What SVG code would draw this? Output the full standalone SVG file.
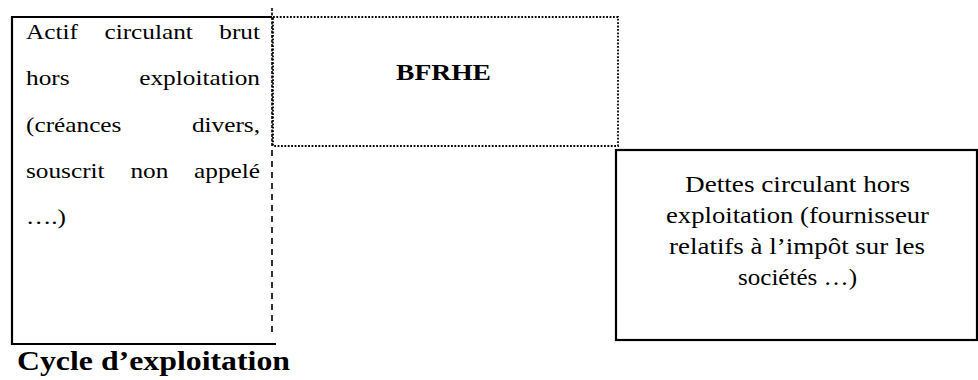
<svg xmlns="http://www.w3.org/2000/svg" width="978" height="380" viewBox="0 0 978 380">
  <style>
    .serif { font-family: "Liberation Serif", "Times New Roman", serif; fill: #000; }
    .body { font-size: 22px; }
    .solid { fill: none; stroke: #000; stroke-width: 2.2; }
    .dotted { fill: none; stroke: #000; stroke-width: 1.8; stroke-dasharray: 1.8 1.6; }
    .dashed { fill: none; stroke: #000; stroke-width: 1.6; stroke-dasharray: 6 5; }
    .dashdot { fill: none; stroke: #000; stroke-width: 1.6; stroke-dasharray: 3 1.5; }
  </style>
  <rect width="978" height="380" fill="#fff"/>

  <!-- Actif circulant hors exploitation: justified column, slightly widened type -->
  <g id="actif">
    <polyline class="solid" points="272,17 12,17 12,344 276,344"/>
    <g class="serif body" transform="translate(26,0) scale(1.15,1)">
      <text y="39"><tspan x="0">Actif</tspan><tspan x="68.2">circulant</tspan><tspan x="203.5" text-anchor="end">brut</tspan></text>
      <text y="85.5"><tspan x="0">hors</tspan><tspan x="203.5" text-anchor="end">exploitation</tspan></text>
      <text y="132"><tspan x="0">(créances</tspan><tspan x="203.5" text-anchor="end">divers,</tspan></text>
      <text y="178"><tspan x="0">souscrit</tspan><tspan x="90.8">non</tspan><tspan x="203.5" text-anchor="end">appelé</tspan></text>
      <text x="0" y="224.5">….)</text>
    </g>
  </g>

  <!-- BFRHE -->
  <g id="bfrhe">
    <rect class="dotted" x="273" y="17" width="345" height="129"/>
    <text class="serif" x="396" y="80" font-size="24" font-weight="bold" textLength="95" lengthAdjust="spacingAndGlyphs">BFRHE</text>
  </g>

  <!-- Dettes circulant hors exploitation -->
  <g id="dettes">
    <rect class="solid" x="616" y="150" width="361" height="190"/>
    <g class="serif" font-size="23">
      <text x="685" y="192" textLength="225" lengthAdjust="spacingAndGlyphs">Dettes circulant hors</text>
      <text x="666" y="223" textLength="263" lengthAdjust="spacingAndGlyphs">exploitation (fournisseur</text>
      <text x="669" y="254" textLength="256" lengthAdjust="spacingAndGlyphs">relatifs à l’impôt sur les</text>
      <text x="738" y="285" textLength="119" lengthAdjust="spacingAndGlyphs">sociétés …)</text>
    </g>
  </g>

  <!-- Column separator -->
  <g id="connectors">
    <line class="dashdot" x1="272" y1="8" x2="272" y2="146"/>
    <line class="dashed" x1="272" y1="150" x2="272" y2="336"/>
  </g>

  <!-- Caption -->
  <g id="caption">
    <text class="serif" x="17" y="370" font-size="27" font-weight="bold" textLength="273" lengthAdjust="spacingAndGlyphs">Cycle d’exploitation</text>
  </g>
</svg>
